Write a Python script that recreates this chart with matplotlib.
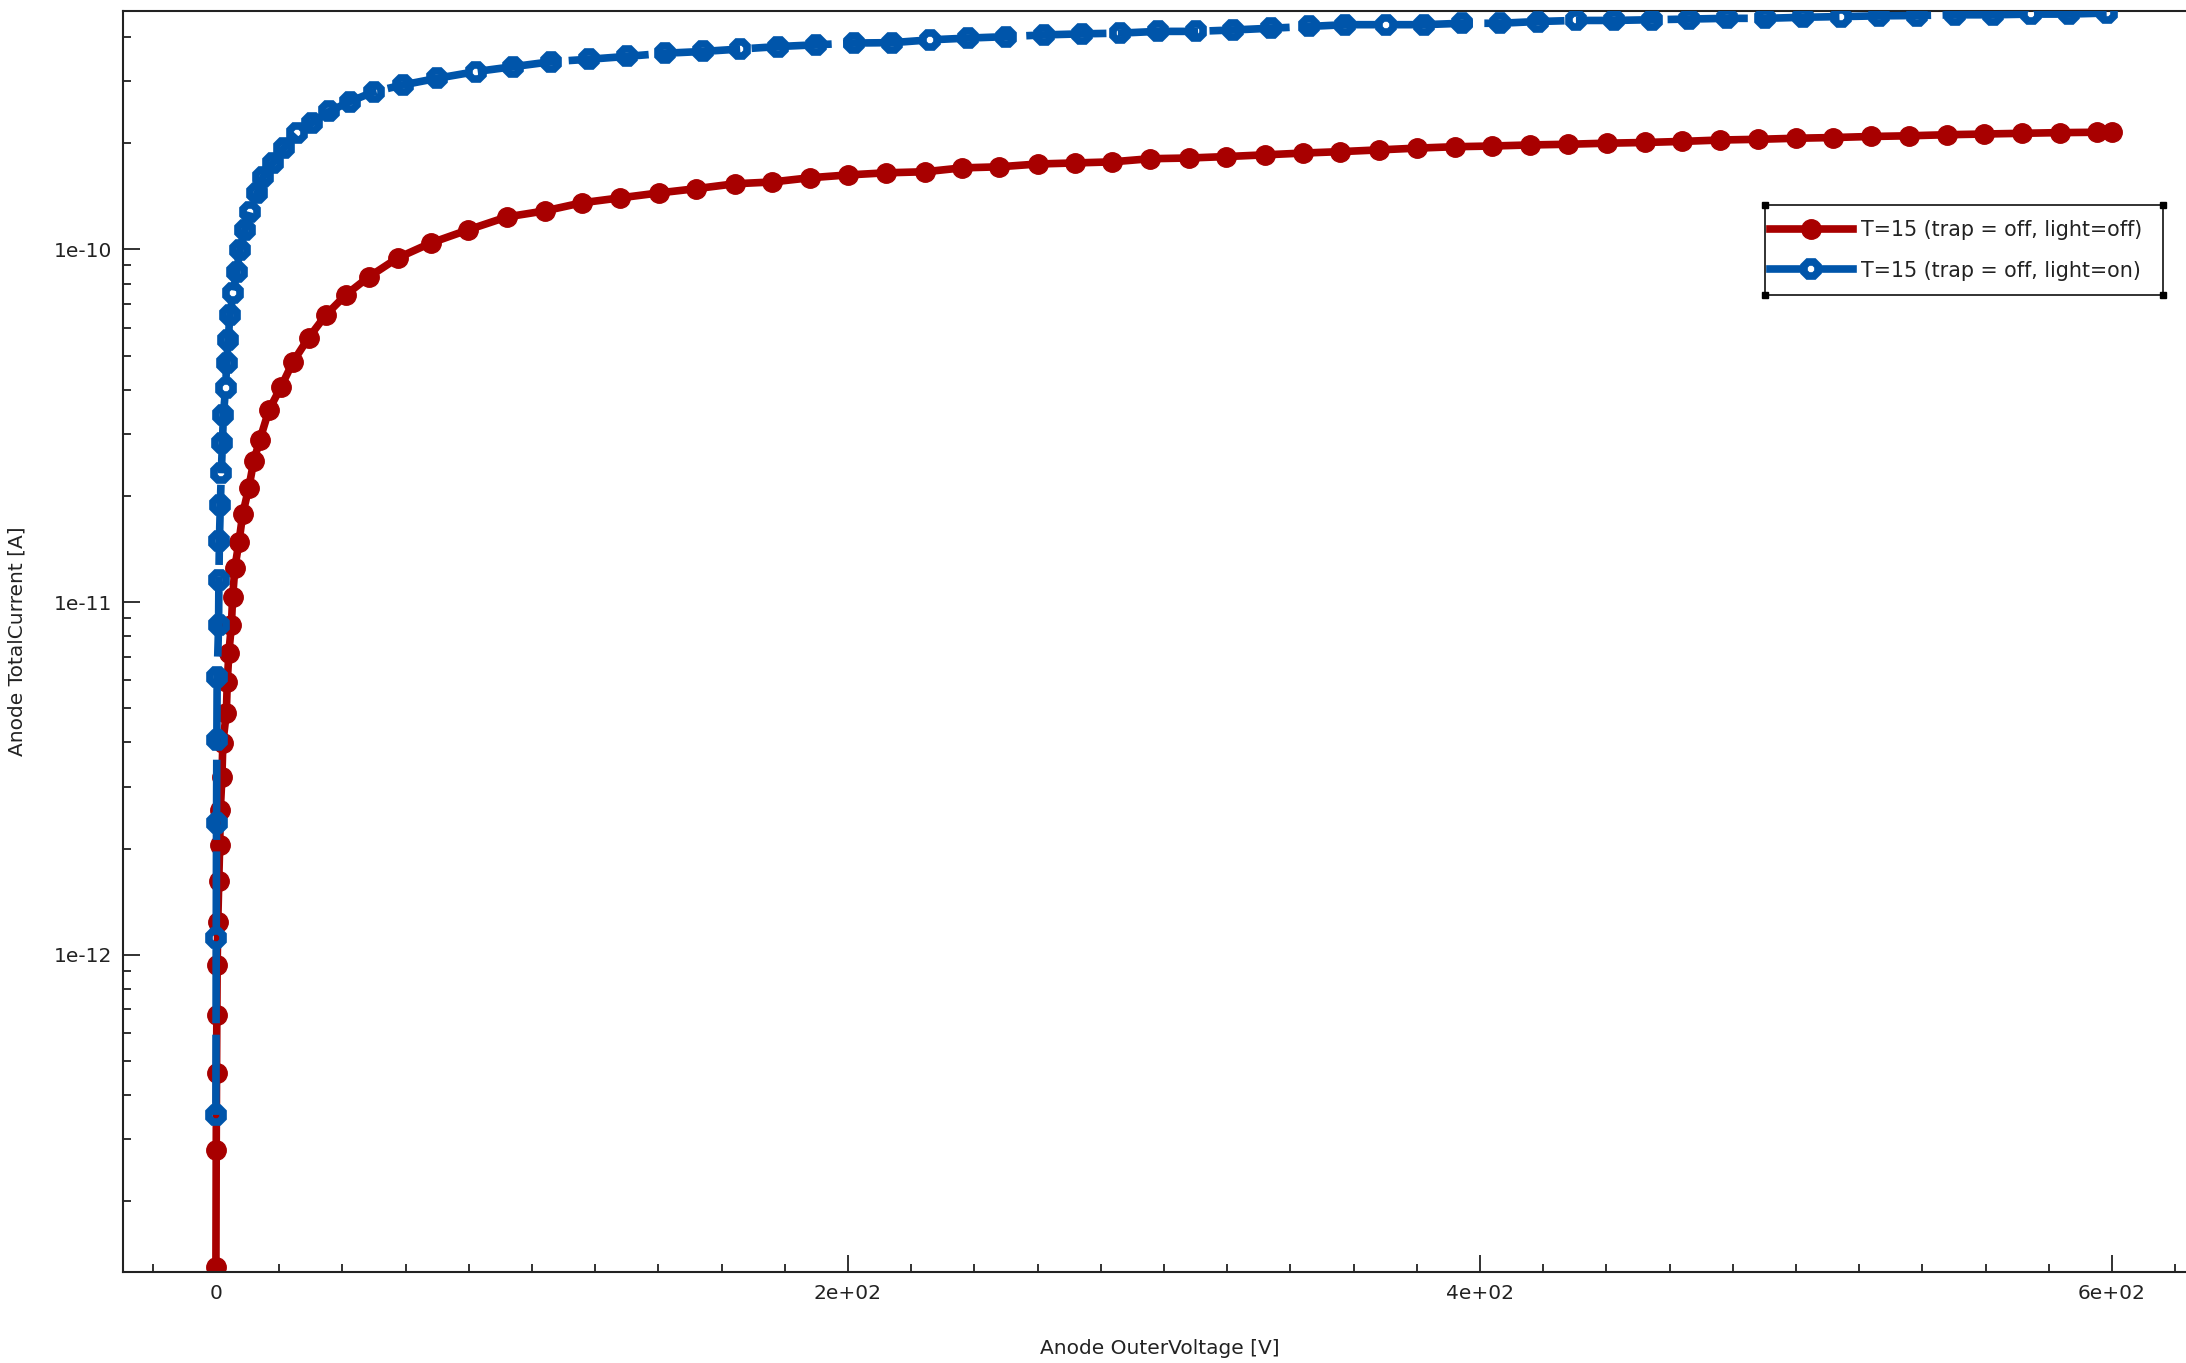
import numpy as np
import matplotlib
matplotlib.use("Agg")
import matplotlib.pyplot as plt
from matplotlib.lines import Line2D
from matplotlib.patches import Rectangle
from matplotlib.ticker import FixedLocator, MultipleLocator, FuncFormatter, LogLocator

# ---- data ----
red_label = "T=15 (trap = off, light=off)"
blue_label = "T=15 (trap = off, light=on)"

red_voltage = [0.0, 0.1, 0.2, 0.3, 0.4, 0.6, 0.9, 1.2, 1.4, 1.9,
               2.2, 3.3, 3.6, 4.1, 4.9, 5.3, 6.0, 7.3, 8.5, 10.4,
               12.0, 13.9, 16.8, 20.6, 24.4, 29.3, 34.8, 41.1, 48.4, 57.6,
               68.0, 79.7, 92.1, 104.1, 115.8, 127.9, 140.2, 151.9, 164.3, 176.0,
               188.0, 200.0, 212.0, 224.4, 236.1, 247.8, 260.1, 271.8, 283.5, 295.6,
               307.9, 319.6, 332.0, 344.0, 355.7, 368.0, 380.1, 392.1, 403.8, 415.8,
               427.9, 440.2, 452.2, 463.9, 476.0, 488.0, 500.0, 511.7, 523.7, 535.8,
               547.8, 559.5, 571.5, 583.6, 595.3, 600.0]
red_log10_current = [-12.886, -12.553, -12.335, -12.170, -12.028, -11.906, -11.792, -11.688, -11.589, -11.496,
                     -11.399, -11.314, -11.226, -11.144, -11.065, -10.985, -10.903, -10.829, -10.750, -10.676,
                     -10.600, -10.540, -10.455, -10.390, -10.319, -10.251, -10.186, -10.129, -10.078, -10.024,
                     -9.982, -9.945, -9.908, -9.891, -9.868, -9.854, -9.840, -9.828, -9.814, -9.809,
                     -9.797, -9.789, -9.783, -9.780, -9.769, -9.766, -9.758, -9.755, -9.752, -9.743,
                     -9.741, -9.737, -9.732, -9.727, -9.723, -9.718, -9.713, -9.709, -9.707, -9.704,
                     -9.702, -9.699, -9.697, -9.694, -9.690, -9.688, -9.685, -9.683, -9.680, -9.678,
                     -9.675, -9.673, -9.671, -9.669, -9.668, -9.668]

blue_voltage = [0.0, 0.1, 0.2, 0.3, 0.4, 0.85, 0.95, 1.1, 1.4, 1.7,
                2.06, 2.37, 3.07, 3.39, 3.89, 4.43, 5.47, 6.55, 7.6, 9.18,
                10.76, 13.07, 14.97, 17.94, 21.52, 25.73, 30.28, 35.86, 42.41, 50.0,
                59.08, 70.03, 82.28, 94.1, 106.1, 118.1, 130.0, 142.0, 154.0, 166.0,
                178.0, 190.0, 202.0, 214.0, 226.0, 238.0, 250.0, 262.0, 274.0, 286.0,
                298.0, 310.0, 322.0, 334.0, 346.0, 357.4, 370.3, 382.3, 394.3, 406.3,
                418.3, 430.3, 442.3, 454.3, 466.3, 478.3, 490.3, 502.3, 514.3, 526.3,
                538.3, 550.3, 562.3, 574.3, 586.3, 598.3]
blue_log10_current = [-12.454, -11.952, -11.627, -11.391, -11.212, -11.065, -10.937, -10.828, -10.724, -10.634,
                      -10.549, -10.469, -10.394, -10.323, -10.257, -10.186, -10.124, -10.063, -10.001, -9.945,
                      -9.893, -9.841, -9.794, -9.756, -9.713, -9.671, -9.642, -9.609, -9.581, -9.553,
                      -9.534, -9.515, -9.496, -9.482, -9.468, -9.461, -9.453, -9.444, -9.439, -9.432,
                      -9.425, -9.420, -9.415, -9.414, -9.406, -9.401, -9.397, -9.392, -9.389, -9.387,
                      -9.382, -9.382, -9.378, -9.373, -9.368, -9.363, -9.363, -9.363, -9.359, -9.359,
                      -9.354, -9.351, -9.351, -9.349, -9.347, -9.345, -9.345, -9.342, -9.340, -9.338,
                      -9.337, -9.335, -9.335, -9.333, -9.333, -9.330]

x_major_ticks = [0, 200, 400, 600]
y_major_ticks = [1e-12, 1e-11, 1e-10]
x_label = "Anode OuterVoltage [V]"
y_label = "Anode TotalCurrent [A]"

# ---- style ----
RED = "#a80000"
BLUE = "#0055aa"
TXT = "#222222"
FS = 14.5
W, H = 2186, 1363

plt.rcParams["font.family"] = ["DejaVu Sans"]
fig = plt.figure(figsize=(W / 100, H / 100), dpi=100)
ax = fig.add_axes([123 / W, 1 - 1271.5 / H, (2197 - 123) / W, (1271.5 - 11) / H])

red_current = 10 ** np.array(red_log10_current)
blue_current = 10 ** np.array(blue_log10_current)

ax.plot(red_voltage, red_current, color=RED, lw=5.5, marker="o", ms=14,
        mfc=RED, mec=RED, mew=1, zorder=2, solid_joinstyle="round")
# blue: hollow thick markers, dashed line drawn on top
ax.plot(blue_voltage, blue_current, ls="none", marker="8", ms=11,
        mfc="none", mec=BLUE, mew=5.5, zorder=3)
ax.plot(blue_voltage, blue_current, color=BLUE, lw=5.5, ls=(0, (10.5, 1.5)), zorder=4)

ax.set_yscale("log")
ax.set_xlim(-29.4, 626.9)
ax.set_ylim(1.265e-13, 4.74e-10)

ax.xaxis.set_major_locator(FixedLocator(x_major_ticks))
ax.xaxis.set_minor_locator(MultipleLocator(20))
ax.xaxis.set_major_formatter(FuncFormatter(lambda v, p: "0" if v == 0 else f"{v:.0e}"))
ax.yaxis.set_major_locator(FixedLocator(y_major_ticks))
ax.yaxis.set_minor_locator(LogLocator(base=10, subs=np.arange(2, 10)))
ax.yaxis.set_major_formatter(FuncFormatter(lambda v, p: f"{v:.0e}"))
ax.yaxis.set_minor_formatter(FuncFormatter(lambda v, p: ""))

ax.tick_params(which="both", direction="in", colors=TXT, labelsize=FS, width=1.3)
ax.tick_params(which="major", length=12)
ax.tick_params(which="minor", length=5.5)
ax.tick_params(axis="x", which="major", pad=9)
ax.tick_params(axis="y", which="major", pad=8)
ax.tick_params(top=False, right=False)
for s in ["left", "bottom", "top"]:
    ax.spines[s].set_color(TXT)
    ax.spines[s].set_linewidth(1.5)
ax.spines["right"].set_visible(False)

ax.set_xlabel(x_label, fontsize=FS, color=TXT, va="center")
ax.set_ylabel(y_label, fontsize=FS, color=TXT, va="center")
axw, axh = 2197 - 123, 1271.5 - 11
ax.xaxis.set_label_coords(0.5, (1271.5 - 1349) / axh)
ax.yaxis.set_label_coords((17 - 123) / axw, 0.5)

# ---- legend ----
h_red = Line2D([], [], color=RED, lw=5.5, marker="o", ms=14, mfc=RED, mec=RED)
h_blue = Line2D([], [], color=BLUE, lw=5.5, marker="8", ms=11, mfc="white", mec=BLUE, mew=5.5)
leg = fig.legend([h_red, h_blue], [red_label, blue_label], loc="upper left",
                 bbox_to_anchor=(1770 / W, 1 - 220 / H), frameon=False, fontsize=14.9,
                 borderpad=0, borderaxespad=0, handlelength=4.0, handletextpad=0.4,
                 labelspacing=1.0)
for t in leg.get_texts():
    t.set_color(TXT)

bx0, by0, bx1, by1 = 1765, 205, 2163, 295
fig.add_artist(Rectangle((bx0 / W, 1 - by1 / H), (bx1 - bx0) / W, (by1 - by0) / H,
                         transform=fig.transFigure, fill=False, ec=TXT, lw=1.3))
fig.add_artist(Line2D([bx0 / W, bx1 / W, bx0 / W, bx1 / W],
                      [1 - by0 / H, 1 - by0 / H, 1 - by1 / H, 1 - by1 / H],
                      transform=fig.transFigure, ls="none", marker="s", ms=5,
                      color="black"))

fig.savefig("out.png", dpi=100)
